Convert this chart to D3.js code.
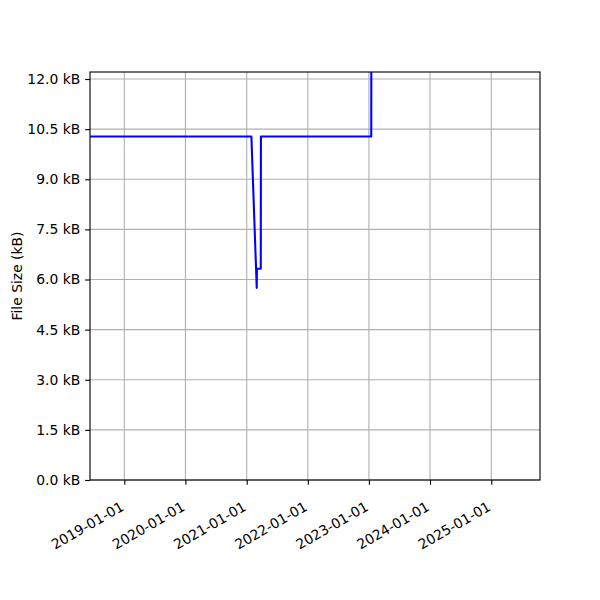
<!DOCTYPE html>
<html>
<head>
<meta charset="utf-8">
<script src="https://cdn.jsdelivr.net/npm/d3@7"></script>
<style>
  body { margin: 0; background: #fff; }
  text { font-family: "DejaVu Sans", sans-serif; }
</style>
</head>
<body>
<svg id="chart" width="600" height="600"></svg>
<script>
// Data
const dates = ["2018-06-10", "2021-01-29", "2021-03-02", "2021-03-03", "2021-03-26", "2021-03-27", "2023-01-15", "2023-01-16", "2025-10-19"];
const sizesKB = [10.28, 10.28, 5.75, 6.32, 6.32, 10.28, 10.28, 15.0, 15.0];
const xTickLabels = ["2019-01-01", "2020-01-01", "2021-01-01", "2022-01-01", "2023-01-01", "2024-01-01", "2025-01-01"];
const yTicks = [0, 1.5, 3.0, 4.5, 6.0, 7.5, 9.0, 10.5, 12.0];
const xDomain = ["2018-06-10", "2025-10-19"];
const yMax = 12.21;
const yLabel = "File Size (kB)";

const parse = d3.utcParse("%Y-%m-%d");
const data = dates.map((d, i) => ({ date: parse(d), v: sizesKB[i] }));

const margin = { left: 90, right: 60, top: 72, bottom: 120 };
const W = 600, H = 600;
const svg = d3.select("#chart");
const g = svg.append("g").attr("transform", `translate(${margin.left},${margin.top})`);
const w = W - margin.left - margin.right;
const h = H - margin.top - margin.bottom;

const x = d3.scaleUtc().domain(xDomain.map(parse)).range([0, w]);
const y = d3.scaleLinear().domain([0, yMax]).range([h, 0]);

const fs = 13.9;
const tickLen = 4.86;

// grid
g.append("g").selectAll("line.gx").data(xTickLabels).join("line")
  .attr("x1", d => x(parse(d))).attr("x2", d => x(parse(d)))
  .attr("y1", 0).attr("y2", h)
  .attr("stroke", "#b0b0b0").attr("stroke-width", 1.11);
g.append("g").selectAll("line.gy").data(yTicks).join("line")
  .attr("x1", 0).attr("x2", w)
  .attr("y1", d => y(d)).attr("y2", d => y(d))
  .attr("stroke", "#b0b0b0").attr("stroke-width", 1.11);

// clip
svg.append("defs").append("clipPath").attr("id", "clip")
  .append("rect").attr("x", 0).attr("y", 0).attr("width", w).attr("height", h);

const line = d3.line().x(d => x(d.date)).y(d => y(d.v));
g.append("path").datum(data)
  .attr("clip-path", "url(#clip)")
  .attr("fill", "none").attr("stroke", "#0000ff").attr("stroke-width", 2.08)
  .attr("stroke-linejoin", "round")
  .attr("d", line);

// axes
const xAxis = d3.axisBottom(x)
  .tickValues(xTickLabels.map(parse))
  .tickFormat(d3.utcFormat("%Y-%m-%d"))
  .tickSizeInner(tickLen).tickSizeOuter(0).tickPadding(3.5);
const gx = g.append("g").attr("transform", `translate(0,${h})`).call(xAxis);
gx.select(".domain").remove();
gx.selectAll(".tick line").attr("stroke", "#000").attr("stroke-width", 1.11);
gx.selectAll(".tick text")
  .attr("font-size", fs).attr("font-family", "DejaVu Sans")
  .attr("fill", "#000")
  .attr("text-anchor", "end")
  .attr("dy", null).attr("y", null)
  .attr("transform", `translate(-2,26) rotate(-30)`)
  .attr("dominant-baseline", "middle");

const yAxis = d3.axisLeft(y)
  .tickValues(yTicks)
  .tickFormat(d => d.toFixed(1) + " kB")
  .tickSizeInner(tickLen).tickSizeOuter(0).tickPadding(4.86);
const gy = g.append("g").call(yAxis);
gy.select(".domain").remove();
gy.selectAll(".tick line").attr("stroke", "#000").attr("stroke-width", 1.11);
gy.selectAll(".tick text").attr("font-size", fs).attr("font-family", "DejaVu Sans").attr("fill", "#000");

// frame
g.append("rect").attr("x", 0).attr("y", 0).attr("width", w).attr("height", h)
  .attr("fill", "none").attr("stroke", "#000").attr("stroke-width", 1.11);

// y label
svg.append("text")
  .attr("transform", `translate(22,${margin.top + h / 2}) rotate(-90)`)
  .attr("text-anchor", "middle")
  .attr("font-size", fs)
  .attr("fill", "#000")
  .text(yLabel);
</script>
</body>
</html>
